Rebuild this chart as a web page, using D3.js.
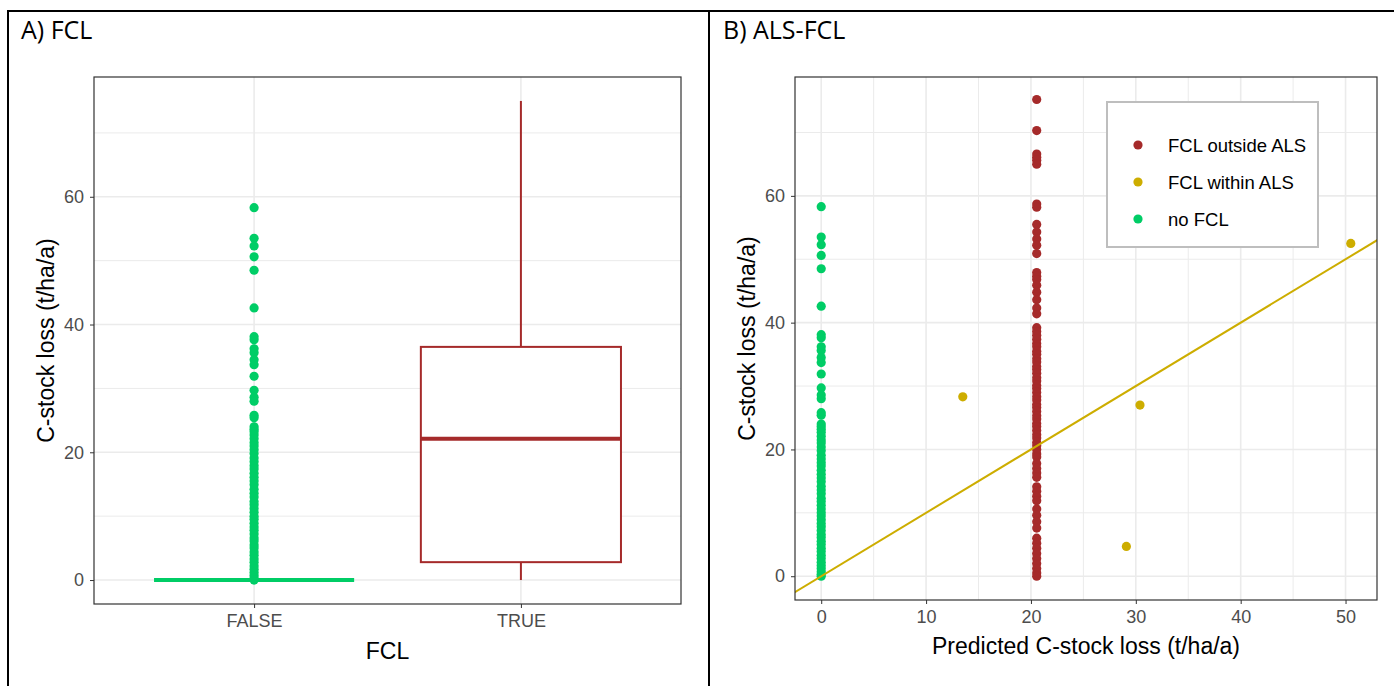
<!DOCTYPE html>
<html><head><meta charset="utf-8">
<script src="https://cdn.jsdelivr.net/npm/d3@7"></script>
<style>body{margin:0;background:#fff;} text{font-family:"Liberation Sans",Arial,sans-serif;}</style>
</head><body>
<svg id="c" width="1394" height="686"></svg>
<script>
// ---------- data ----------
const categoriesA = ["FALSE", "TRUE"];
const noFCL = [58.3, 53.5, 52.3, 50.6, 48.5, 42.6, 38.1, 37.6, 36.2, 35.6, 34.5, 33.7, 31.9, 29.7, 28.6, 28.0, 25.8, 25.4, 24.0, 23.6, 23.2, 22.7, 22.1, 21.5, 21.0, 20.4, 19.8, 19.1, 18.5, 17.9, 17.4, 16.7, 16.1, 15.5, 14.9, 14.2, 13.6, 13.0, 12.3, 11.8, 11.2, 10.6, 10.0, 9.5, 8.9, 8.3, 7.8, 7.2, 6.6, 6.1, 5.5, 5.0, 4.4, 3.9, 3.3, 2.8, 2.2, 1.7, 1.2, 0.7, 0.3, 0.0];
// boxplot stats for TRUE group: [lower whisker, q1, median, q3, upper whisker]
const boxTRUE = [0, 2.8, 22.1, 36.5, 75.0];
const boxFALSE = [0, 0, 0, 0, 0];
const outsideX = 20.55;
const outsideY = [75.2, 70.3, 66.6, 66.1, 65.6, 65.0, 58.7, 58.2, 55.5, 54.3, 53.2, 52.2, 50.9, 47.9, 47.3, 46.8, 45.9, 44.8, 43.6, 42.3, 41.4, 39.2, 38.6, 38.0, 37.4, 36.7, 36.2, 35.5, 35.0, 34.3, 33.8, 33.1, 32.6, 32.0, 31.3, 30.8, 30.1, 29.6, 29.0, 28.3, 27.8, 27.1, 26.6, 26.0, 25.3, 24.8, 24.1, 23.6, 23.0, 22.3, 21.8, 21.1, 20.6, 20.0, 19.3, 18.8, 17.8, 17.0, 16.3, 15.6, 14.1, 13.4, 12.6, 11.9, 10.6, 9.6, 8.6, 7.6, 6.0, 5.2, 4.4, 3.6, 2.8, 2.0, 1.2, 0.5, 0.0];
const withinX = [13.5, 30.4, 29.1, 50.5];
const withinY = [28.3, 27.0, 4.7, 52.5];
const legendLabels = ["FCL outside ALS", "FCL within ALS", "no FCL"];
const yTicks = [0, 20, 40, 60];
const yMinor = [10, 30, 50, 70];
const xTicksB = [0, 10, 20, 30, 40, 50];
const xMinorB = [5, 15, 25, 35, 45];

const RED = "#A52A2A", GOLD = "#CDAD00", GREEN = "#00CD66";
const legendColors = [RED, GOLD, GREEN];
const TICK_FS = 18, TITLE_FS = 23;

const svg = d3.select("#c");

// frame
svg.append("line").attr("x1",7).attr("x2",1394).attr("y1",11).attr("y2",11).attr("stroke","#000").attr("stroke-width",2);
svg.append("line").attr("x1",8).attr("x2",8).attr("y1",10).attr("y2",686).attr("stroke","#000").attr("stroke-width",2);
svg.append("line").attr("x1",709).attr("x2",709).attr("y1",10).attr("y2",686).attr("stroke","#000").attr("stroke-width",2);

svg.append("text").attr("x",21).attr("y",39).attr("font-size",25).style("font-family","'Open Sans',sans-serif").text("A) FCL");
svg.append("text").attr("x",723).attr("y",39).attr("font-size",25).style("font-family","'Open Sans',sans-serif").text("B) ALS-FCL");

function grid(g, xs, ys, x0, x1, y0, y1, sw) {
  xs.forEach(v => g.append("line").attr("x1",v).attr("x2",v).attr("y1",y0).attr("y2",y1).attr("stroke","#EBEBEB").attr("stroke-width",sw));
  ys.forEach(v => g.append("line").attr("y1",v).attr("y2",v).attr("x1",x0).attr("x2",x1).attr("stroke","#EBEBEB").attr("stroke-width",sw));
}
function styleAxis(a) {
  a.select(".domain").remove();
  a.selectAll("line").attr("stroke","#333");
  a.selectAll("text").attr("fill","#4D4D4D").attr("font-size",TICK_FS).style("font-family","'Liberation Sans',Arial,sans-serif");
}

// ---------- Panel A ----------
const A = {l:94, r:681, t:77, b:604};
const xA = d3.scalePoint().domain(categoriesA).range([A.l, A.r]).padding(0.6);
const yA = d3.scaleLinear().domain([-3.75, 78.75]).range([A.b, A.t]);
const gA = svg.append("g");
grid(gA, [], yMinor.map(yA), A.l, A.r, A.t, A.b, 1);
grid(gA, categoriesA.map(xA), yTicks.map(yA), A.l, A.r, A.t, A.b, 1.6);
const bw = xA.step() * 0.75;

function drawBox(g, cat, s, color) {
  const cx = xA(cat);
  g.append("line").attr("x1",cx).attr("x2",cx).attr("y1",yA(s[3])).attr("y2",yA(s[4])).attr("stroke",color).attr("stroke-width",2);
  g.append("line").attr("x1",cx).attr("x2",cx).attr("y1",yA(s[1])).attr("y2",yA(s[0])).attr("stroke",color).attr("stroke-width",2);
  g.append("rect").attr("x",cx-bw/2).attr("width",bw).attr("y",yA(s[3])).attr("height",Math.max(0,yA(s[1])-yA(s[3])))
    .attr("fill","#fff").attr("stroke",color).attr("stroke-width",2);
  g.append("line").attr("x1",cx-bw/2).attr("x2",cx+bw/2).attr("y1",yA(s[2])).attr("y2",yA(s[2])).attr("stroke",color).attr("stroke-width",4);
}
drawBox(gA, "FALSE", boxFALSE, GREEN);
drawBox(gA, "TRUE", boxTRUE, RED);
gA.selectAll(".pa").data(noFCL).join("circle").attr("cx",xA("FALSE")).attr("cy",d=>yA(d)).attr("r",4.6).attr("fill",GREEN);

gA.append("rect").attr("x",A.l).attr("y",A.t).attr("width",A.r-A.l).attr("height",A.b-A.t).attr("fill","none").attr("stroke","#333").attr("stroke-width",1.2);
styleAxis(gA.append("g").attr("transform",`translate(${A.l},0)`).call(d3.axisLeft(yA).tickValues(yTicks).tickSize(4).tickPadding(6)));
styleAxis(gA.append("g").attr("transform",`translate(0,${A.b})`).call(d3.axisBottom(xA).tickSize(4).tickPadding(6)));
gA.append("text").attr("x",(A.l+A.r)/2).attr("y",659).attr("text-anchor","middle").attr("font-size",TITLE_FS).text("FCL");
gA.append("text").attr("transform",`translate(54,${(A.t+A.b)/2}) rotate(-90)`).attr("text-anchor","middle").attr("font-size",TITLE_FS).text("C-stock loss (t/ha/a)");

// ---------- Panel B ----------
const B = {l:795, r:1377, t:77, b:600};
const xB = d3.scaleLinear().domain([-2.5, 53.0]).range([B.l, B.r]);
const yB = d3.scaleLinear().domain([-3.75, 78.75]).range([B.b, B.t]);
const gB = svg.append("g");
grid(gB, xMinorB.map(xB), yMinor.map(yB), B.l, B.r, B.t, B.b, 1);
grid(gB, xTicksB.map(xB), yTicks.map(yB), B.l, B.r, B.t, B.b, 1.6);

gB.selectAll(".pg").data(noFCL).join("circle").attr("cx",xB(0)).attr("cy",d=>yB(d)).attr("r",4.6).attr("fill",GREEN);
gB.selectAll(".pr").data(outsideY).join("circle").attr("cx",xB(outsideX)).attr("cy",d=>yB(d)).attr("r",4.6).attr("fill",RED);
gB.selectAll(".py").data(withinY).join("circle").attr("cx",(d,i)=>xB(withinX[i])).attr("cy",d=>yB(d)).attr("r",4.6).attr("fill",GOLD);
// 1:1 line
gB.append("clipPath").attr("id","clipB").append("rect").attr("x",B.l).attr("y",B.t).attr("width",B.r-B.l).attr("height",B.b-B.t);
gB.append("line").attr("clip-path","url(#clipB)").attr("x1",xB(-3)).attr("y1",yB(-3)).attr("x2",xB(55)).attr("y2",yB(55)).attr("stroke",GOLD).attr("stroke-width",2);

gB.append("rect").attr("x",B.l).attr("y",B.t).attr("width",B.r-B.l).attr("height",B.b-B.t).attr("fill","none").attr("stroke","#333").attr("stroke-width",1.2);
styleAxis(gB.append("g").attr("transform",`translate(${B.l},0)`).call(d3.axisLeft(yB).tickValues(yTicks).tickSize(4).tickPadding(6)));
styleAxis(gB.append("g").attr("transform",`translate(0,${B.b})`).call(d3.axisBottom(xB).tickValues(xTicksB).tickSize(4).tickPadding(6)));
gB.append("text").attr("x",(B.l+B.r)/2).attr("y",654).attr("text-anchor","middle").attr("font-size",TITLE_FS).text("Predicted C-stock loss (t/ha/a)");
gB.append("text").attr("transform",`translate(755,${(B.t+B.b)/2}) rotate(-90)`).attr("text-anchor","middle").attr("font-size",TITLE_FS).text("C-stock loss (t/ha/a)");

// legend
const lg = gB.append("g");
lg.append("rect").attr("x",1107).attr("y",102).attr("width",211).attr("height",145).attr("fill","#fff").attr("stroke","#BEBEBE").attr("stroke-width",2);
legendLabels.forEach((t,i) => {
  const y = 145 + i*37;
  lg.append("circle").attr("cx",1138).attr("cy",y).attr("r",4.6).attr("fill",legendColors[i]);
  lg.append("text").attr("x",1168).attr("y",y).attr("dy","0.36em").attr("font-size",18.5).text(t);
});
</script>
</body></html>
